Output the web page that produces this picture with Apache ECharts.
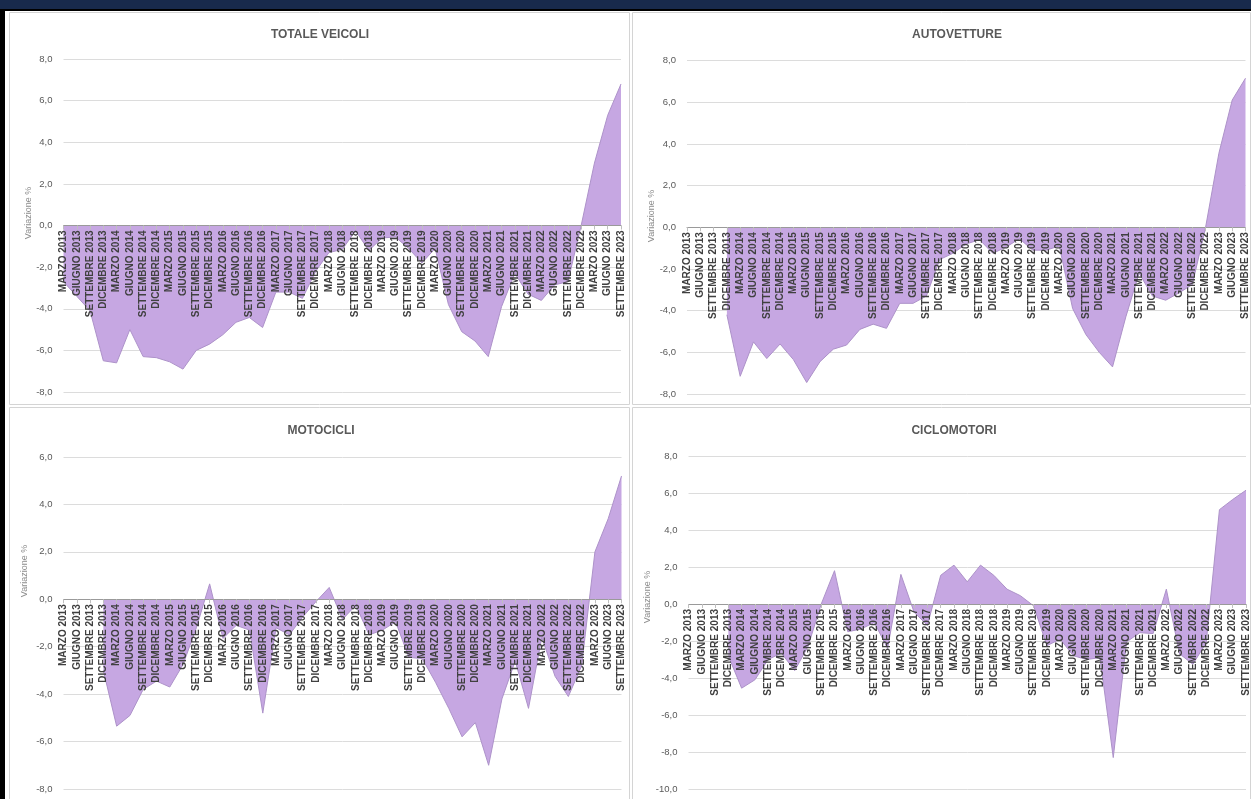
<!DOCTYPE html>
<html>
<head>
<meta charset="utf-8">
<script src="https://cdn.jsdelivr.net/npm/echarts@6/dist/echarts.min.js"></script>
<style>
html,body{margin:0;padding:0;background:#fff;}
#c{width:1251px;height:799px;}
</style>
</head>
<body>
<div id="c"></div>
<script>
const categories = [
  'MARZO 2013','GIUGNO 2013','SETTEMBRE 2013','DICEMBRE 2013',
  'MARZO 2014','GIUGNO 2014','SETTEMBRE 2014','DICEMBRE 2014',
  'MARZO 2015','GIUGNO 2015','SETTEMBRE 2015','DICEMBRE 2015',
  'MARZO 2016','GIUGNO 2016','SETTEMBRE 2016','DICEMBRE 2016',
  'MARZO 2017','GIUGNO 2017','SETTEMBRE 2017','DICEMBRE 2017',
  'MARZO 2018','GIUGNO 2018','SETTEMBRE 2018','DICEMBRE 2018',
  'MARZO 2019','GIUGNO 2019','SETTEMBRE 2019','DICEMBRE 2019',
  'MARZO 2020','GIUGNO 2020','SETTEMBRE 2020','DICEMBRE 2020',
  'MARZO 2021','GIUGNO 2021','SETTEMBRE 2021','DICEMBRE 2021',
  'MARZO 2022','GIUGNO 2022','SETTEMBRE 2022','DICEMBRE 2022',
  'MARZO 2023','GIUGNO 2023','SETTEMBRE 2023'
];

const totaleVeicoli = [-2.7,-3.4,-4.1,-6.5,-6.6,-5.0,-6.3,-6.35,-6.55,-6.9,-6.0,-5.7,-5.25,-4.65,-4.42,-4.9,-3.2,-3.2,-3.5,-2.2,-1.3,-1.15,-0.25,-1.2,-0.6,-0.55,-1.1,-1.8,-1.1,-3.8,-5.1,-5.55,-6.3,-3.9,-2.3,-3.3,-3.6,-2.85,-2.7,0.0,3.0,5.3,6.8];
const autovetture = [null,null,null,-4.2,-7.15,-5.5,-6.3,-5.6,-6.35,-7.45,-6.45,-5.85,-5.65,-4.9,-4.65,-4.85,-3.65,-3.65,-3.3,-1.55,-1.25,-0.8,-0.6,-1.25,-0.95,-0.55,-1.1,-1.1,-0.9,-3.9,-5.15,-6.0,-6.7,-4.3,-2.2,-3.3,-3.5,-3.15,-2.75,0.0,3.55,6.1,7.15];
const motocicli = [null,null,null,-3.0,-5.35,-4.9,-3.8,-3.45,-3.7,-2.75,-1.2,0.65,-1.65,-1.1,-1.3,-4.8,-1.2,-1.5,-0.75,-0.1,0.5,-0.85,-0.25,-1.5,-1.3,-0.95,-2.45,-2.5,-3.5,-4.6,-5.8,-5.2,-7.0,-4.2,-2.6,-4.6,-1.6,-3.25,-4.1,-2.8,2.0,3.4,5.2];
const ciclomotori = [null,null,null,-2.8,-4.55,-4.1,-3.0,-2.65,-3.6,-2.3,0.0,1.8,-1.5,-1.35,-1.0,-2.4,1.6,-0.45,-1.15,1.55,2.1,1.2,2.1,1.55,0.8,0.45,-0.1,-2.25,-1.9,-2.8,-3.0,-2.9,-8.3,-2.05,-1.55,-1.6,0.8,-2.7,-3.25,-2.1,5.1,5.65,6.15];

const panelTitles = ['TOTALE VEICOLI','AUTOVETTURE','MOTOCICLI','CICLOMOTORI'];
const axisName = 'Variazione %';
const yRanges = [[-8,8],[-8,8],[-8,6],[-10,8]];
const seriesData = [totaleVeicoli, autovetture, motocicli, ciclomotori];

const FONT = '"Liberation Sans", Arial, sans-serif';
const grids = [
  {left:63.5, top:59, width:557.5, height:333},
  {left:687, top:60.5, width:558.5, height:333.5},
  {left:63.5, top:457, width:558, height:332},
  {left:688.5, top:456, width:557.5, height:333}
];
const titlePos = [[320,35],[957,35],[321,431],[954,431]];
const namePos = [[29,213],[652,216],[25,571],[648,597]];

const chart = echarts.init(document.getElementById('c'), null, {renderer:'canvas'});

const xAxes = [], yAxes = [], series = [];
for (let i = 0; i < 4; i++) {
  const zeroShift = -grids[i].height * (0 - yRanges[i][0]) / (yRanges[i][1] - yRanges[i][0]);
  xAxes.push({
    type:'category', gridIndex:i, data:categories, boundaryGap:false, z:5,
    position:'bottom', offset: zeroShift,
    axisLine:{show:true, onZero:false, lineStyle:{color:'#9a9a9a', width:1}},
    axisTick:{show:true, interval:0, length:4, lineStyle:{color:'#bfbfbf'}},
    axisLabel:{interval:0, rotate:90, margin:5, fontSize:10, fontWeight:'bold',
      color:'#404040', fontFamily:FONT},
    splitLine:{show:false}
  });
  yAxes.push({
    type:'value', gridIndex:i, min:yRanges[i][0], max:yRanges[i][1], interval:2,
    axisLine:{show:false}, axisTick:{show:false},
    axisLabel:{margin:11, fontSize:9.5, color:'#595959', fontFamily:FONT,
      formatter: v => v.toFixed(1).replace('.', ',')},
    splitLine:{show:true, lineStyle:{color:'#dcdcdc', width:1}}
  });
  series.push({
    type:'line', xAxisIndex:i, yAxisIndex:i, data:seriesData[i],
    symbol:'none', smooth:false, connectNulls:false, z:2,
    lineStyle:{color:'#ad92c9', width:1},
    areaStyle:{color:'#c6a7e2', opacity:1}
  });
}

const graphics = [
  {type:'rect', shape:{x:0,y:0,width:1251,height:9}, style:{fill:'#182a4c'}, z:100},
  {type:'rect', shape:{x:0,y:9,width:1251,height:2}, style:{fill:'#000'}, z:100},
  {type:'rect', shape:{x:0,y:9,width:5,height:790}, style:{fill:'#000'}, z:100},
  {type:'rect', shape:{x:9.5,y:12.5,width:620,height:392}, style:{fill:null, stroke:'#d4d4d4', lineWidth:1}, z:1},
  {type:'rect', shape:{x:632.5,y:12.5,width:618,height:392}, style:{fill:null, stroke:'#d4d4d4', lineWidth:1}, z:1},
  {type:'rect', shape:{x:9.5,y:407.5,width:620,height:392}, style:{fill:null, stroke:'#d4d4d4', lineWidth:1}, z:1},
  {type:'rect', shape:{x:632.5,y:407.5,width:618,height:392}, style:{fill:null, stroke:'#d4d4d4', lineWidth:1}, z:1}
];
for (let i = 0; i < 4; i++) {
  graphics.push({type:'text', x:titlePos[i][0], y:titlePos[i][1], z:50,
    style:{text:panelTitles[i], font:'bold 12px ' + FONT, fill:'#595959', align:'center', verticalAlign:'middle'}});
  graphics.push({type:'text', x:namePos[i][0], y:namePos[i][1], rotation:Math.PI/2, z:50,
    style:{text:axisName, font:'9px ' + FONT, fill:'#8c8c8c', align:'center', verticalAlign:'middle'}});
}

chart.setOption({
  animation:false,
  backgroundColor:'#ffffff',
  grid: grids,
  xAxis: xAxes,
  yAxis: yAxes,
  series: series,
  graphic: graphics
});
</script>
</body>
</html>
